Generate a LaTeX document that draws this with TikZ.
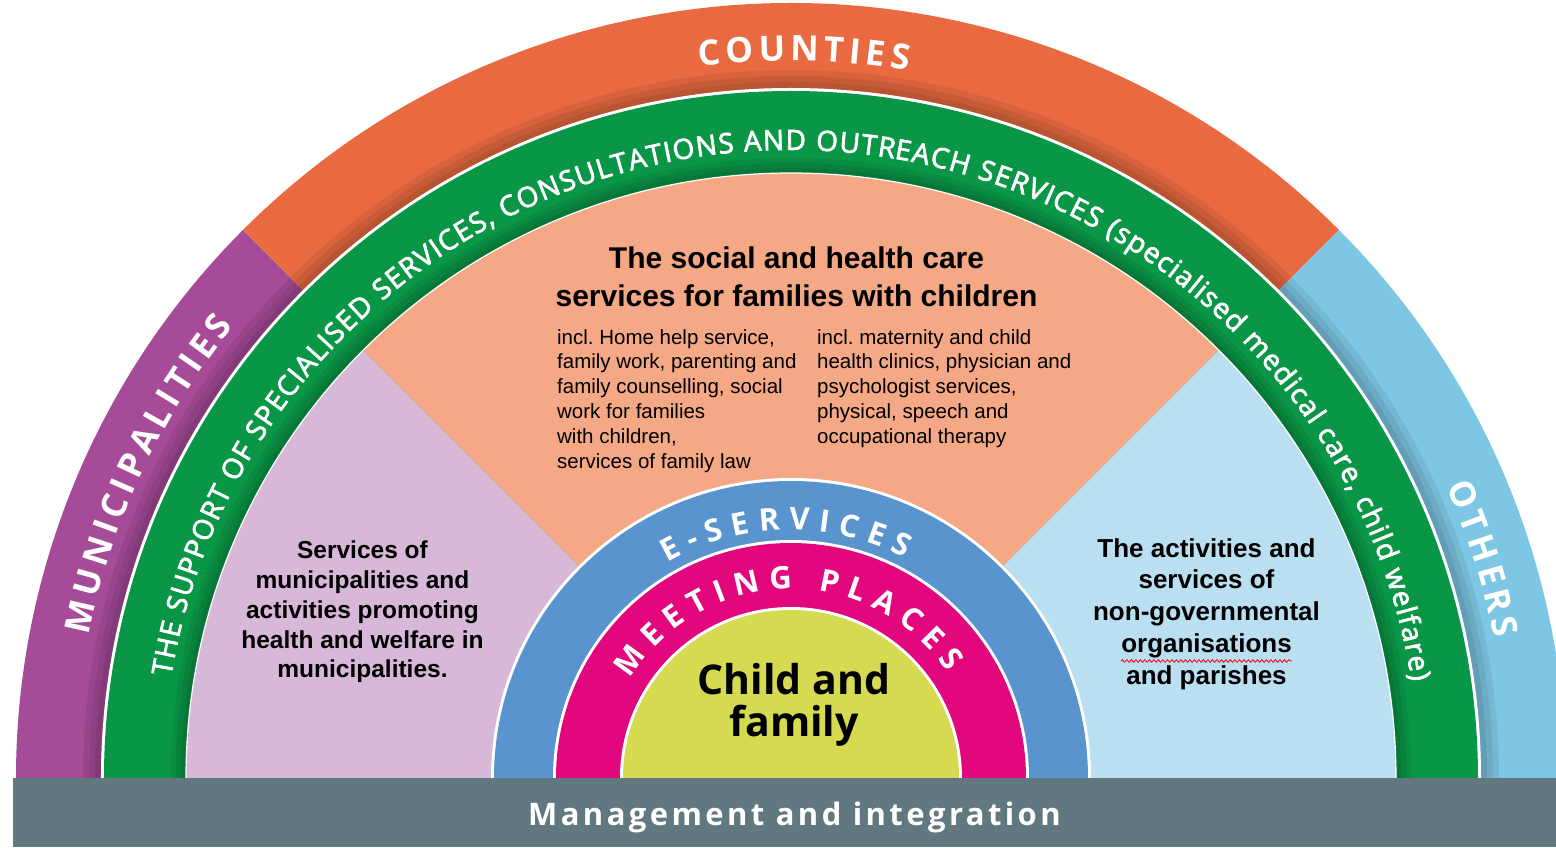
\documentclass[tikz,border=0pt]{standalone}
\usepackage{fontspec}
\setmainfont{Liberation Sans}
\newfontfamily\ringsans{Open Sans}
\newfontfamily\bandsans[FakeBold=2.5]{Open Sans}
\newfontfamily\mgmtsans[LetterSpace=11]{Open Sans}
\usepackage{tikz}
\usetikzlibrary{decorations.text, decorations.pathmorphing}
\usepackage{xcolor}
\frenchspacing

\definecolor{munipurple}{HTML}{A54B97}
\definecolor{cntorange}{HTML}{E96A41}
\definecolor{othcyan}{HTML}{7DC7E4}
\definecolor{supgreen}{HTML}{0A9647}
\definecolor{munililac}{HTML}{D7B8D9}
\definecolor{socsalmon}{HTML}{F4A886}
\definecolor{ngoblue}{HTML}{B9DFF1}
\definecolor{eblue}{HTML}{5A94CE}
\definecolor{meetmagenta}{HTML}{E3077E}
\definecolor{childyellow}{HTML}{D5DA51}
\definecolor{mgmtgrey}{HTML}{627880}

\newcommand\outercaps{\ringsans\bfseries\fontsize{35}{40}\selectfont\color{white}}
\newcommand\innercaps{\ringsans\bfseries\fontsize{31}{36}\selectfont\color{white}}
\newcommand\bandtext{\bandsans\fontsize{28}{34}\selectfont\color{white}}

\begin{document}
\begin{tikzpicture}[x=1pt,y=1pt,
  ringlabel/.style={decorate,decoration={text along path,text align={fit to path},text={#1}}},
  ringshade/.style={black,opacity=0.07},
  bodytext/.style={font=\fontsize{20.5}{24.8}\selectfont,align=left,inner sep=0},
  sidetext/.style 2 args={font=\bfseries\fontsize{#1}{#2}\selectfont,align=center,inner sep=0},
  squiggle/.style={red,line width=0.8,decorate,decoration={snake,amplitude=1.3,segment length=4.5}}]
  \clip (-791,-69) rectangle (765,778);
  \fill[white] (-791,-69) rectangle (765,778);

  % outer ring and rings inside it
  \foreach \a/\b/\c in {180/135/munipurple,135/45/cntorange,45/0/othcyan}
    \fill[\c] (0,0) -- (\a:775pt) arc[start angle=\a,end angle=\b,radius=775pt] -- cycle;
  \foreach \w in {6,12,18}
    \fill[ringshade] (690pt+\w pt,0) arc[start angle=0,end angle=180,radius=690pt+\w pt]
      -- (180:690pt) arc[start angle=180,end angle=0,radius=690pt] -- cycle;
  \foreach \r/\c in {690/white,687/supgreen}
    \fill[\c] (\r pt,0) arc[start angle=0,end angle=180,radius=\r pt] -- cycle;
  \foreach \w in {5,10,15}
    \fill[ringshade] (605pt+\w pt,0) arc[start angle=0,end angle=180,radius=605pt+\w pt]
      -- (180:605pt) arc[start angle=180,end angle=0,radius=605pt] -- cycle;
  \foreach \a/\b/\c in {180/135/munililac,135/45/socsalmon,45/0/ngoblue}
    \fill[\c] (0,0) -- (\a:605pt) arc[start angle=\a,end angle=\b,radius=605pt] -- cycle;
  \draw[white,line width=1.2] (605pt,0) arc[start angle=0,end angle=180,radius=605pt];
  \foreach \r/\c in {300/white,297/eblue,238/white,235/meetmagenta,171/white,168/childyellow}
    \fill[\c] (\r pt,0) arc[start angle=0,end angle=180,radius=\r pt] -- cycle;

  \fill[mgmtgrey] (-778,0) rectangle (765,-69);

  % ring labels
  \path[ringlabel={|\outercaps|MUNICIPALITIES}] (168.5:717pt) arc[start angle=168.5,end angle=141,radius=717pt];
  \path[ringlabel={|\outercaps|COUNTIES}] (97.3:717pt) arc[start angle=97.3,end angle=80.6,radius=717pt];
  \path[ringlabel={|\outercaps|OTHERS}] (24:717pt) arc[start angle=24,end angle=11.2,radius=717pt];
  \path[ringlabel={|\bandtext|THE SUPPORT OF SPECIALISED SERVICES, CONSULTATIONS AND OUTREACH SERVICES (specialised medical care, child welfare)}]
    (170.7:628pt) arc[start angle=170.7,end angle=8.9,radius=628pt];
  \path[ringlabel={|\innercaps|E-SERVICES}] (119.8:248pt) arc[start angle=119.8,end angle=62.6,radius=248pt];
  \path[ringlabel={|\innercaps|MEETING PLACES}] (148.2:189pt) arc[start angle=148.2,end angle=34.1,radius=189pt];

  \node[font=\bfseries\fontsize{30}{38}\selectfont,align=center,inner sep=0] (heading) at (5.5,501)
    {The social and health care\\services for families with children};
  \node[bodytext,anchor=north west] (home_help) at (-234,449)
    {incl. Home help service,\\family work, parenting and\\family counselling, social\\work for families\\with children,\\services of family law};
  \node[bodytext,anchor=north west] (clinics) at (26,449)
    {incl. maternity and child\\health clinics, physician and\\psychologist services,\\physical, speech and\\occupational therapy};

  \node[sidetext={24.5}{29.75}] (munic_txt) at (-428.5,166)
    {Services of\\municipalities and\\activities promoting\\health and welfare in\\municipalities.};
  \node[sidetext={26}{31.75}] (ngo_txt) at (415.5,164)
    {The activities and\\services of\\non-governmental\\organisations\\and parishes};
  \draw[squiggle] (330,117) -- (501,117);

  \node[font=\ringsans\bfseries\fontsize{41}{42}\selectfont,align=center,inner sep=0] (child) at (3,73)
    {Child and\\family};
  \node[font=\mgmtsans\bfseries\fontsize{31}{36}\selectfont,text=white,anchor=base] (mgmt) at (3.5,-47)
    {Management and integration};
\end{tikzpicture}
\end{document}
